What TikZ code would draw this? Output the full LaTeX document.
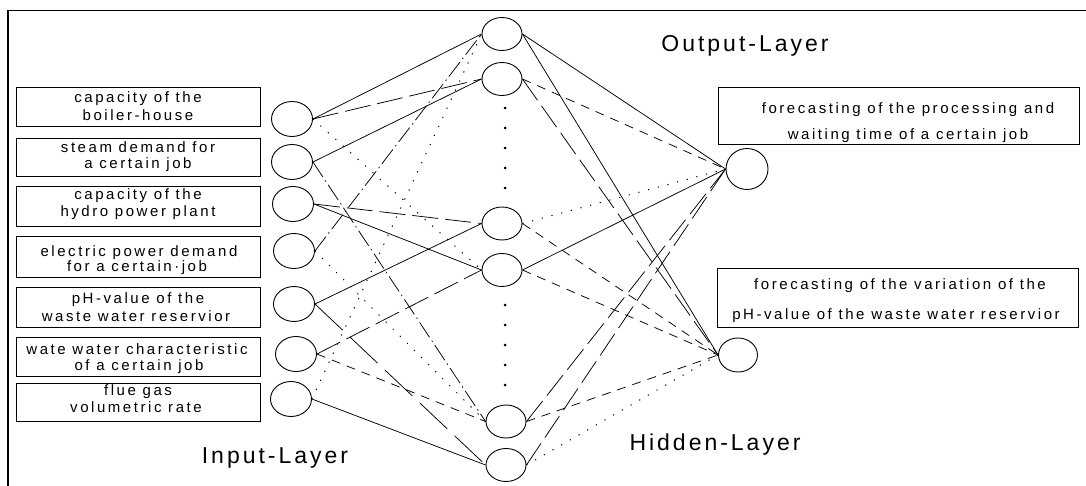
\documentclass[tikz,border=0pt]{standalone}
\usepackage{fontspec}
\setmainfont{Liberation Sans}
\newfontfamily\boxfont[LetterSpace=17]{Liberation Sans}
\newfontfamily\labfont[LetterSpace=13]{Liberation Sans}
\usetikzlibrary{shapes.geometric}
\tikzset{
  neuron/.style={draw, ellipse, inner sep=0pt, line width=0.9pt},
  inp/.style={neuron, minimum width=41pt, minimum height=35pt},
  hid/.style={neuron, minimum width=40pt, minimum height=33pt},
  lbox/.style={draw, line width=0.9pt, minimum width=244pt, inner sep=0pt},
  rbox/.style={draw, line width=0.9pt, minimum width=361pt, inner sep=0pt},
  boxtext/.style={anchor=base, inner sep=0pt, font=\boxfont\fontsize{15}{17}\selectfont},
  layerlabel/.style={anchor=base, inner sep=0pt, font=\labfont\fontsize{23}{27}\selectfont},
  conn/.style={line width=0.75pt},
  sol/.style={conn},
  dsh/.style={conn, dash pattern=on 9pt off 7pt},
  ldsh/.style={conn, dash pattern=on 26pt off 7pt},
  vldsh/.style={conn, dash pattern=on 38pt off 10pt},
  ddot/.style={conn, dash pattern=on 18pt off 4pt on 1.5pt off 4pt},
  dots/.style={line width=1pt, dash pattern=on 1.2pt off 8.8pt},
}
\begin{document}
\begin{tikzpicture}[x=1pt,y=-1pt]
\useasboundingbox (0,0) rectangle (1086,486);
% frame
\coordinate (fb) at (8,486);
\coordinate (fc) at (8,10.5);
\coordinate (fr) at (1086,10.5);
\draw[line width=1.3pt] (fb) -- (fc) -- (fr);

% input boxes
\node[lbox, minimum height=39pt] (b1) at (138,106.5) {};
\node[lbox, minimum height=38pt] (b2) at (138,157) {};
\node[lbox, minimum height=40pt] (b3) at (138,206) {};
\node[lbox, minimum height=41pt] (b4) at (138,256.5) {};
\node[lbox, minimum height=40pt] (b5) at (138,307) {};
\node[lbox, minimum height=39pt] (b6) at (138,356.5) {};
\node[lbox, minimum height=38pt] (b7) at (138,402) {};
\node[boxtext] (b1a) at (138,103) {capacity of the};
\node[boxtext] (b1b) at (138,121) {boiler-house};
\node[boxtext] (b2a) at (138,153) {steam demand for};
\node[boxtext] (b2b) at (138,169) {a certain job};
\node[boxtext] (b3a) at (138,200) {capacity of the};
\node[boxtext] (b3b) at (138,217) {hydro power plant};
\node[boxtext] (b4a) at (139,256) {electric power demand};
\node[boxtext] (b4b) at (137,272) {for a certain·job};
\node[boxtext] (b5a) at (138,303) {pH-value of the};
\node[boxtext] (b5b) at (136,321) {waste water reservior};
\node[boxtext] (b6a) at (137,354) {wate water characteristic};
\node[boxtext] (b6b) at (139,370) {of a certain job};
\node[boxtext] (b7a) at (138,395) {flue gas};
\node[boxtext] (b7b) at (136,412) {volumetric rate};

% input neurons
\node[inp] (i1) at (292,119) {};
\node[inp] (i2) at (292,162) {};
\node[inp] (i3) at (293,204) {};
\node[inp] (i4) at (294,251) {};
\node[inp] (i5) at (294,304) {};
\node[inp] (i6) at (296,354) {};
\node[inp] (i7) at (291,399) {};

% hidden neurons
\node[hid] (h1) at (502,34) {};
\node[hid] (h2) at (502,79) {};
\node[hid] (h3) at (502,223.5) {};
\node[hid] (h4) at (502,270) {};
\node[hid] (h5) at (506,421.5) {};
\node[hid] (h6) at (506,465) {};

% ellipsis dots
\foreach \y in {108,128,148,168,188,305,325,345,365,385}
  \fill (505,\y) circle (1.5pt);

% output neurons
\node[neuron, minimum width=42pt, minimum height=41pt] (o1) at (747,169) {};
\node[neuron, minimum width=39pt, minimum height=34pt] (o2) at (738,355) {};

% output boxes
\node[rbox, minimum height=57pt] (r1) at (898.5,115.5) {};
\node[rbox, minimum height=59pt] (r2) at (898,297.5) {};
\node[boxtext] (r1a) at (908,114) {forecasting of the processing and};
\node[boxtext] (r1b) at (908,140) {waiting time of a certain job};
\node[boxtext] (r2a) at (900,289) {forecasting of the variation of the};
\node[boxtext] (r2b) at (896,319) {pH-value of the waste water reservior};

% layer labels
\node[layerlabel] (lo) at (745,52) {Output-Layer};
\node[layerlabel] (lh) at (715,450) {Hidden-Layer};
\node[layerlabel] (li) at (275,463) {Input-Layer};

% input -> hidden
\draw[sol]   (i1.east) -- (h1.west);
\draw[ldsh]  (i1.east) -- (h2.west);
\draw[dots]  (i1.east) -- (h4.west);
\draw[sol]   (i2.east) -- (h2.west);
\draw[ddot]  (i2.east) -- (h5.west);
\draw[ldsh]  (i3.east) -- (h3.west);
\draw[sol]   (i3.east) -- (h4.west);
\draw[ddot]  (i4.east) -- (h1.west);
\draw[dots]  (i4.east) -- (h5.west);
\draw[sol]   (i5.east) -- (h3.west);
\draw[vldsh] (i5.east) -- (h6.west);
\draw[ldsh]  (i6.east) -- (h4.west);
\draw[dsh]   (i6.east) -- (h5.west);
\draw[dots]  (i7.east) -- (h1.west);
\draw[sol]   (i7.east) -- (h6.west);

% hidden -> output
\draw[sol]  (h1.east) -- (o1.west);
\draw[sol]  (h1.east) -- (o2.west);
\draw[dsh]  (h2.east) -- (o1.west);
\draw[ldsh] (h2.east) -- (o2.west);
\draw[dots] (h3.east) -- (o1.west);
\draw[dsh]  (h3.east) -- (o2.west);
\draw[sol]  (h4.east) -- (o1.west);
\draw[dsh]  (h4.east) -- (o2.west);
\draw[ldsh] (h5.east) -- (o1.west);
\draw[dsh]  (h5.east) -- (o2.west);
\draw[ldsh] (h6.east) -- (o1.west);
\draw[dots] (h6.east) -- (o2.west);
\end{tikzpicture}
\end{document}
